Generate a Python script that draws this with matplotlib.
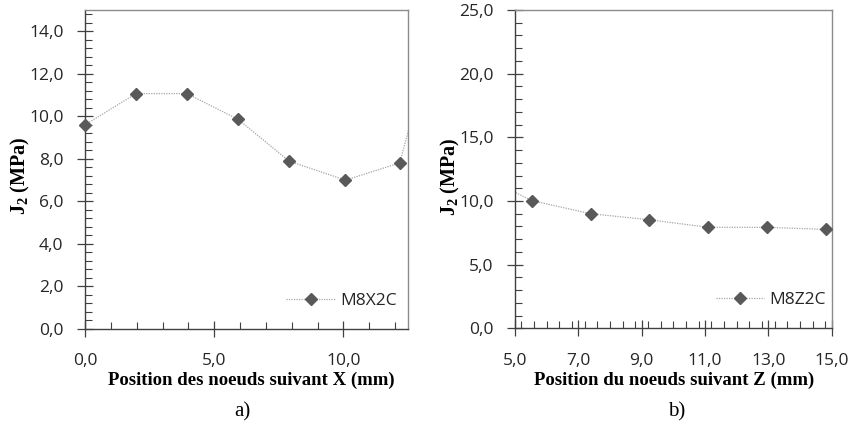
import matplotlib
matplotlib.use("Agg")
import matplotlib.pyplot as plt
from matplotlib.ticker import MultipleLocator, FuncFormatter
from matplotlib.lines import Line2D

plt.rcParams["mathtext.fontset"] = "custom"
plt.rcParams["mathtext.rm"] = "Liberation Serif"
plt.rcParams["mathtext.bf"] = "Liberation Serif:bold"

# ---- data ----
x_a = [0.0, 1.98, 3.94, 5.92, 7.90, 10.08, 12.18]
y_a = [9.6, 11.07, 11.07, 9.86, 7.89, 7.0, 7.81]
x_a_next = 13.0     # next node, outside the visible range
y_a_next = 11.5
label_a = "M8X2C"

x_b = [5.53, 7.39, 9.23, 11.10, 12.95, 14.81]
y_b = [10.03, 9.0, 8.53, 7.93, 7.93, 7.77]
x_b_prev = 3.68     # previous node, outside the visible range
y_b_prev = 12.3
label_b = "M8Z2C"

xticks_a = [0, 5, 10]
yticks_a = [0, 2, 4, 6, 8, 10, 12, 14]
xticks_b = [5, 7, 9, 11, 13, 15]
yticks_b = [0, 5, 10, 15, 20, 25]

xlabel_a = "Position des noeuds suivant X (mm)"
xlabel_b = "Position du noeuds suivant Z (mm)"
ylabel = r"$\mathbf{J}_{\mathbf{2}}$ (MPa)"

W, H = 852, 428
fig = plt.figure(figsize=(W / 100, H / 100), dpi=100)

tick_font = "Open Sans"
serif = "Liberation Serif"
fmt = FuncFormatter(lambda v, p: f"{v:.1f}".replace(".", ","))

line_col = "#a6a6a6"
mk_col = "#595959"
TS = 12.5


def style(ax, xt, xmin, yt, ymin):
    ax.set_xticks(xt)
    ax.set_yticks(yt)
    ax.xaxis.set_minor_locator(MultipleLocator(xmin))
    ax.yaxis.set_minor_locator(MultipleLocator(ymin))
    ax.xaxis.set_major_formatter(fmt)
    ax.yaxis.set_major_formatter(fmt)
    for s in ("left", "bottom"):
        ax.spines[s].set_color("#404040")
        ax.spines[s].set_linewidth(1.0)
    for s in ("top", "right"):
        ax.spines[s].set_color("#8c8c8c")
        ax.spines[s].set_linewidth(1.0)
    ax.tick_params(which="major", direction="inout", length=11, width=0.9,
                   color="#404040", labelsize=TS, labelcolor="#262626")
    ax.tick_params(which="minor", direction="in", length=5, width=0.8, color="#404040")
    ax.tick_params(axis="y", which="major", pad=10)
    ax.tick_params(axis="x", which="major", pad=12)
    for lab in ax.get_xticklabels() + ax.get_yticklabels():
        lab.set_fontfamily(tick_font)


def panel(ax, xs, ys, lx, ly, label, anchor):
    ax.plot(lx, ly, linestyle=(0, (1, 1)), color=line_col, linewidth=0.9, zorder=2)
    ax.plot(xs, ys, linestyle="none", marker="D", markersize=6, color=mk_col,
            clip_on=False, zorder=3)
    h = Line2D([], [], linestyle=(0, (1, 1)), color=line_col, linewidth=0.9,
               marker="D", markersize=6, markerfacecolor=mk_col, markeredgecolor=mk_col)
    ax.legend([h], [label], loc="center right", frameon=False, handlelength=2.8,
              handletextpad=0.3, borderaxespad=0, borderpad=0,
              prop={"family": tick_font, "size": TS}, bbox_to_anchor=anchor,
              labelcolor="#262626")


ax1 = fig.add_axes([85 / W, 1 - 329 / H, (408 - 85) / W, (329 - 10) / H])
panel(ax1, x_a, y_a, x_a + [x_a_next], y_a + [y_a_next], label_a, (0.965, 0.088))
ax1.set_xlim(0, 12.5)
ax1.set_ylim(0, 15)
style(ax1, xticks_a, 1, yticks_a, 0.4)

ax2 = fig.add_axes([515 / W, 1 - 328.3 / H, (831.7 - 515) / W, (328.3 - 10) / H])
panel(ax2, x_b, y_b, [x_b_prev] + x_b, [y_b_prev] + y_b, label_b, (0.982, 0.088))
ax2.set_xlim(5, 15)
ax2.set_ylim(0, 25)
style(ax2, xticks_b, 0.4, yticks_b, 1)

ax1.set_ylabel(ylabel, fontfamily=serif, fontweight="bold", fontsize=14.5)
ax1.yaxis.set_label_coords(-0.165, 0.48)
ax2.set_ylabel(ylabel, fontfamily=serif, fontweight="bold", fontsize=14.5)
ax2.yaxis.set_label_coords(-0.168, 0.475)

fig.text(251 / W, 1 - 380 / H, xlabel_a, ha="center", va="center",
         fontfamily=serif, fontweight="bold", fontsize=13.5)
fig.text(674 / W, 1 - 380 / H, xlabel_b, ha="center", va="center",
         fontfamily=serif, fontweight="bold", fontsize=13.5)
fig.text(242 / W, 1 - 412 / H, "a)", ha="center", va="center",
         fontfamily=serif, fontsize=15)
fig.text(677 / W, 1 - 412 / H, "b)", ha="center", va="center",
         fontfamily=serif, fontsize=15)

fig.savefig("out.png", dpi=100)
